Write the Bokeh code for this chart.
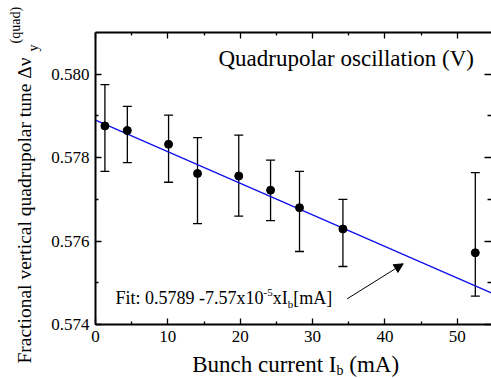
from bokeh.plotting import figure
from bokeh.models import (ColumnDataSource, Whisker, TeeHead, LinearAxis, FixedTicker,
                          PrintfTickFormatter, Label, Arrow, NormalHead, Range1d)
from bokeh.embed import file_html
from bokeh.resources import INLINE

# ---- data ----
current = [1.3, 4.4, 10.1, 14.1, 19.8, 24.2, 28.2, 34.2, 52.5]
tune = [0.57876, 0.57865, 0.57832, 0.57762, 0.57756, 0.57722, 0.57680, 0.57629, 0.57572]
tune_upper = [0.57975, 0.57923, 0.57902, 0.57848, 0.57854, 0.57794, 0.57767, 0.57700, 0.57764]
tune_lower = [0.57767, 0.57788, 0.57741, 0.57642, 0.57660, 0.57649, 0.57575, 0.57539, 0.57468]
fit_intercept = 0.5789
fit_slope = -7.57e-5
x_ticks = [0, 10, 20, 30, 40, 50]
x_minor = [5, 15, 25, 35, 45]
y_ticks = [0.574, 0.576, 0.578, 0.580]
y_minor = [0.575, 0.577, 0.579]

# axes box (data) and its placement on the canvas (pixels)
X0, X1 = 0, 54.6
Y0, Y1 = 0.574, 0.581
W_PX, H_PX = 491, 378
LEFT, RIGHT, TOP, BOTTOM = 95, 490, 32, 324

kx = (X1 - X0) / (RIGHT - LEFT)
ky = (Y1 - Y0) / (BOTTOM - TOP)
x_start, x_end = X0 - LEFT * kx, X1 + (W_PX - RIGHT) * kx
y_start, y_end = Y0 - (H_PX - BOTTOM) * ky, Y1 + TOP * ky


def dx(px):
    return X0 + (px - LEFT) * kx


def dy(py):
    return Y1 - (py - TOP) * ky


FONT = "Liberation Serif"
W = {'F': .556, 'i': .278, 't': .278, ':': .278, ' ': .25, '.': .25, '-': .333, 'x': .5,
     'I': .333, 'b': .5, '[': .333, 'm': .778, 'A': .722, ']': .333}
LIFT = 0.3  # baseline correction, fraction of font size


def tw(s, size):
    return sum(W.get(c, 0.5) for c in s) * size


p = figure(width=W_PX, height=H_PX, x_range=Range1d(x_start, x_end), y_range=Range1d(y_start, y_end),
           output_backend="svg", toolbar_location=None, x_axis_location=None, y_axis_location=None,
           min_border=0)
p.outline_line_color = None
p.grid.visible = False
p.background_fill_color = "white"
p.border_fill_color = "white"

xt = FixedTicker(ticks=x_ticks, minor_ticks=x_minor)
yt = FixedTicker(ticks=y_ticks, minor_ticks=y_minor)
xb = (X0, x_end)
yb = (Y0, Y1)


def style(ax, ticks, labels=True, line=True):
    ax.major_tick_in = 6
    ax.major_tick_out = 0
    ax.minor_tick_in = 3
    ax.minor_tick_out = 0
    ax.major_tick_line_width = 1.3
    ax.minor_tick_line_width = 1.3
    ax.axis_line_width = 2
    ax.major_tick_line_color = "black"
    ax.minor_tick_line_color = "black"
    ax.axis_line_color = "black" if line else None
    ax.major_label_text_font = FONT
    ax.major_label_text_font_size = "17px"
    ax.major_label_text_color = "black"
    ax.major_label_standoff = 6
    if not labels:
        ax.major_label_overrides = {t: "" for t in ticks}
        ax.major_label_standoff = 0


bottom = LinearAxis(ticker=xt, fixed_location=Y0, bounds=xb)
style(bottom, x_ticks)
p.add_layout(bottom, "below")
left = LinearAxis(ticker=yt, fixed_location=X0, bounds=yb,
                  formatter=PrintfTickFormatter(format="%.3f"))
style(left, y_ticks)
p.add_layout(left, "left")
top = LinearAxis(ticker=xt, fixed_location=Y1, bounds=xb)
style(top, x_ticks, labels=False)
p.add_layout(top, "above")
right = LinearAxis(ticker=yt, fixed_location=dx(491), bounds=yb)
style(right, y_ticks, labels=False, line=False)
right.major_tick_in = 7
right.minor_tick_in = 4
p.add_layout(right, "right")

# fit line
fx = [X0, x_end]
fy = [fit_intercept + fit_slope * v for v in fx]
p.line(fx, fy, line_color="#1010f0", line_width=1.3)

src = ColumnDataSource(dict(x=current, y=tune, upper=tune_upper, lower=tune_lower))
p.add_layout(Whisker(base="x", upper="upper", lower="lower", source=src,
                     line_color="black", line_width=1.3,
                     upper_head=TeeHead(size=9, line_width=1.3, line_color="black"),
                     lower_head=TeeHead(size=9, line_width=1.3, line_color="black")))
p.scatter("x", "y", source=src, size=8, color="black")


def hlabel(x, y, text, size, xo=0, yo=0, align="left"):
    p.add_layout(Label(x=x, y=y, x_offset=xo, y_offset=yo + LIFT * size, text=text, text_font=FONT,
                       text_font_size=f"{size}px", text_color="black", text_align=align,
                       text_baseline="alphabetic"))


def vlabel(x, y, text, size, xo=0, yo=0, align="left"):
    p.add_layout(Label(x=x, y=y, x_offset=xo - LIFT * size, y_offset=yo, angle=90, angle_units="deg",
                       text=text, text_font=FONT, text_font_size=f"{size}px", text_color="black",
                       text_align=align, text_baseline="alphabetic"))


# title in plot
hlabel(dx(218), dy(65), "Quadrupolar oscillation (V)", 23)

# fit annotation
fs, ss = 18, 11
fx0, fy0 = dx(115), dy(303)
pieces = [("Fit: 0.5789 -7.57x10", fs, 0), ("-5", ss, 8), ("xI", fs, 0), ("b", ss, -4), ("[mA]", fs, 0)]
off = 0
for t, s, oy in pieces:
    hlabel(fx0, fy0, t, s, xo=off, yo=oy)
    off += tw(t, s)

p.add_layout(Arrow(x_start=dx(346.7), y_start=dy(298.3), x_end=dx(402.7), y_end=dy(263.3),
                   line_width=1, line_color="black",
                   end=NormalHead(size=9, fill_color="black", line_color="black")))

# x axis label
xs, xss = 23, 14
xl_x, xl_y = dx(336), dy(371)
hlabel(xl_x, xl_y, "Bunch current I", xs, align="right")
hlabel(xl_x, xl_y, "b", xss, yo=-3)
hlabel(xl_x, xl_y, "(mA)", xs, xo=tw("b", xss) + tw(" ", xs))

# y axis label (rotated)
ys, yss = 19.5, 14
yl_x, yl_y = dx(30), dy(52)
vlabel(yl_x, yl_y, "Fractional vertical quadrupolar tune  \u0394\u03bd", ys, align="right")
vlabel(yl_x, yl_y, "y", yss, xo=7, yo=1)
vlabel(yl_x, yl_y, "(quad)", yss, xo=-11, yo=9)

open("out.html", "w").write(file_html(p, INLINE))
